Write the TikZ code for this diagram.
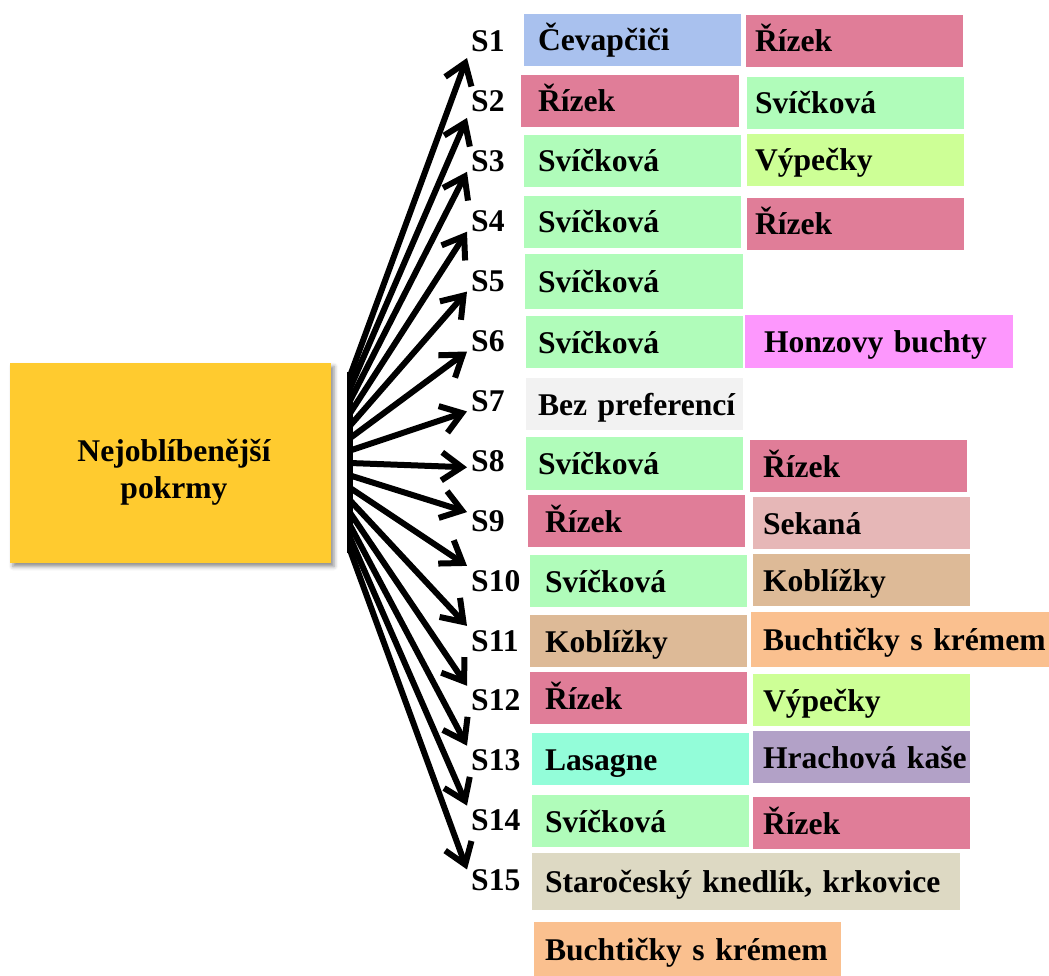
\documentclass[tikz,border=0pt]{standalone}
\usepackage{fontspec}
\setmainfont{Liberation Serif}
\usetikzlibrary{arrows.meta,shadows.blur}

\definecolor{cevap}{HTML}{A9C1EE}
\definecolor{rizek}{HTML}{E07D98}
\definecolor{svick}{HTML}{B0FCBA}
\definecolor{vypec}{HTML}{CDFF96}
\definecolor{honza}{HTML}{FD97FD}
\definecolor{nopref}{HTML}{F2F2F2}
\definecolor{sekana}{HTML}{E6B7B7}
\definecolor{kobliz}{HTML}{DDBA97}
\definecolor{bucht}{HTML}{FAC08F}
\definecolor{lasag}{HTML}{93FDD9}
\definecolor{hrach}{HTML}{B2A1C7}
\definecolor{staro}{HTML}{DDD9C3}
\definecolor{titlebg}{HTML}{FFCB2F}

% one coloured dish box: name, left, top, width, height, left padding, colour, text
\newcommand\dish[8]{%
  \node[dishbox, fill=#7, minimum width=#4pt, minimum height=#5pt,
        text width=#4pt] (#1) at (#2,#3) {\hspace*{#6pt}\mbox{#8}};}

\tikzset{
  bigfont/.style={font=\fontsize{31.6}{37}\selectfont\bfseries},
  dishbox/.style={bigfont, anchor=north west, outer sep=0pt, inner sep=0pt,
                  align=left, text height=24pt, text depth=2pt},
  slabel/.style={bigfont, anchor=base west, inner sep=4pt},
  titlebox/.style={fill=titlebg, minimum width=321pt, minimum height=200pt,
                   inner sep=0pt,
                   blur shadow={shadow xshift=3pt, shadow yshift=-4pt,
                                shadow blur radius=4pt, shadow opacity=45}},
  titletext/.style={bigfont, align=center, inner sep=0pt},
  fan/.style={line width=6pt, -{Straight Barb[length=20pt,width=28pt]}},
  spine/.style={line width=6pt}
}

\begin{document}
\begin{tikzpicture}[x=1pt,y=-1pt]
\useasboundingbox (0,0) rectangle (1049,976);

% central topic
\node[titlebox] (title) at (170.5,462.5) {};
\node[titletext] (titlelbl) at (174,472) {Nejoblíbenější\\pokrmy};

% respondent labels
\foreach \i in {1,...,15}{
  \pgfmathsetmacro\by{52+59.9*(\i-1)}
  \node[slabel] (S\i) at (467,\by) {S\i};
}

% left column of dishes
\dish{a1}{524}{14}{217}{52}{14}{cevap}{Čevapčiči}
\dish{a2}{521}{75}{218}{52}{17}{rizek}{Řízek}
\dish{a3}{524}{135}{217}{52}{14}{svick}{Svíčková}
\dish{a4}{524}{196}{217}{52}{14}{svick}{Svíčková}
\dish{a5}{525}{254}{218}{55}{13}{svick}{Svíčková}
\dish{a6}{526}{316}{217}{52}{12}{svick}{Svíčková}
\dish{a7}{526}{378}{217}{52}{12}{nopref}{Bez preferencí}
\dish{a8}{526}{437}{217}{53}{12}{svick}{Svíčková}
\dish{a9}{528}{495}{217}{52}{17}{rizek}{Řízek}
\dish{a10}{530}{555}{217}{52}{15}{svick}{Svíčková}
\dish{a11}{530}{615}{217}{52}{15}{kobliz}{Koblížky}
\dish{a12}{530}{672}{217}{52}{15}{rizek}{Řízek}
\dish{a13}{532}{733}{217}{52}{13}{lasag}{Lasagne}
\dish{a14}{532}{795}{217}{52}{13}{svick}{Svíčková}
\dish{a15}{532}{853}{428}{57}{13}{staro}{Staročeský knedlík, krkovice}
\dish{a16}{534}{922}{307}{54}{11}{bucht}{Buchtičky s krémem}

% right column of dishes
\dish{b1}{746}{15}{217}{52}{9}{rizek}{Řízek}
\dish{b2}{747}{77}{217}{52}{8}{svick}{Svíčková}
\dish{b3}{747}{134}{217}{52}{8}{vypec}{Výpečky}
\dish{b4}{747}{198}{217}{52}{8}{rizek}{Řízek}
\dish{b6}{745}{315}{268}{53}{19}{honza}{Honzovy buchty}
\dish{b8}{750}{440}{217}{52}{13}{rizek}{Řízek}
\dish{b9}{753}{497}{217}{52}{10}{sekana}{Sekaná}
\dish{b10}{753}{554}{217}{52}{10}{kobliz}{Koblížky}
\dish{b11}{751}{612}{298}{55}{12}{bucht}{Buchtičky s krémem}
\dish{b12}{753}{674}{217}{52}{10}{vypec}{Výpečky}
\dish{b13}{753}{731}{217}{52}{10}{hrach}{Hrachová kaše}
\dish{b14}{753}{797}{217}{52}{10}{rizek}{Řízek}

% fan of arrows from the spine to the labels
\coordinate (spineTop) at (350,372);
\coordinate (spineBot) at (350,553);
\draw[spine] (spineTop) -- (spineBot);
\foreach \i in {1,...,15}{
  \pgfmathsetmacro\oy{376+12.43*(\i-1)}
  \coordinate (o\i) at (350,\oy);
}
\draw[fan] (o1) -- ([yshift=-6pt]S1.base west);
\draw[fan] (o2) -- ([yshift=-6pt]S2.base west);
\draw[fan] (o3) -- (S3.base west);
\draw[fan] (o4) -- (S4.base west);
\draw[fan] (o5) -- (S5.base west);
\draw[fan] (o6) -- (S6.base west);
\draw[fan] (o7) -- (S7.base west);
\draw[fan] (o8) -- ([yshift=4pt]S8.base west);
\draw[fan] (o9) -- ([yshift=-6pt]S9.north west);
\draw[fan] (o10) -- (S10.north west);
\draw[fan] (o11) -- (S11.north west);
\draw[fan] (o12) -- (S12.north west);
\draw[fan] (o13) -- (S13.north west);
\draw[fan] (o14) -- (S14.north west);
\draw[fan] (o15) -- ([yshift=-4pt]S15.north west);
\end{tikzpicture}
\end{document}
